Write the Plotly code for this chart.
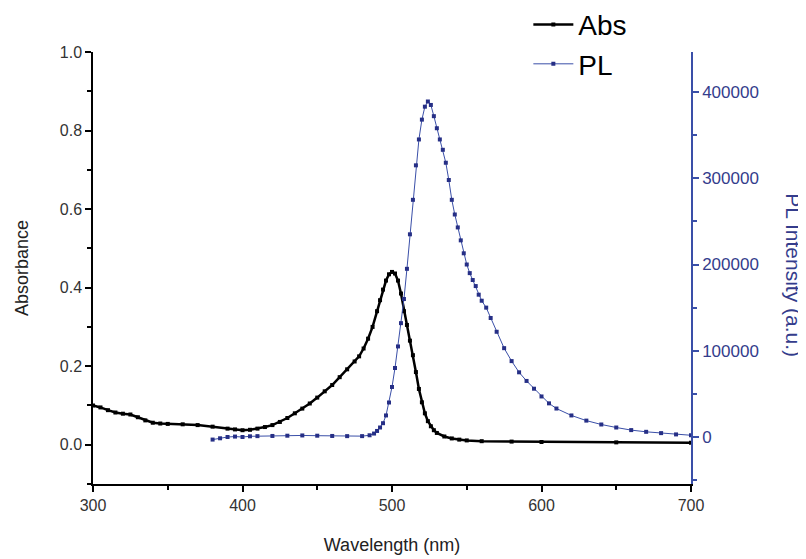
import plotly.graph_objects as go

# Absorbance spectrum
wl_abs = [300, 305, 310, 315, 320, 325, 330, 335, 340, 345, 350, 360, 370, 380, 390, 395,
          400, 405, 410, 415, 420, 425, 430, 435, 440, 445, 450, 455, 460, 465, 470, 475,
          478, 481, 484, 487, 490, 492, 494, 496, 498, 500, 502, 504, 506, 508, 510, 512,
          514, 516, 518, 520, 522, 524, 526, 528, 530, 535, 540, 545, 550, 560, 580, 600,
          650, 700]
abs_vals = [0.100, 0.095, 0.088, 0.082, 0.079, 0.077, 0.070, 0.062, 0.056, 0.054, 0.053, 0.052,
            0.050, 0.046, 0.041, 0.039, 0.037, 0.038, 0.041, 0.045, 0.050, 0.058, 0.068, 0.080,
            0.092, 0.105, 0.120, 0.136, 0.152, 0.172, 0.192, 0.212, 0.225, 0.245, 0.270, 0.300,
            0.340, 0.368, 0.395, 0.418, 0.434, 0.440, 0.436, 0.418, 0.385, 0.340, 0.305, 0.265,
            0.228, 0.185, 0.142, 0.108, 0.080, 0.060, 0.047, 0.037, 0.030, 0.021, 0.016, 0.013,
            0.011, 0.009, 0.008, 0.007, 0.006, 0.005]

# PL spectrum
wl_pl = [380, 385, 390, 395, 400, 405, 410, 420, 430, 440, 450, 460, 470, 480, 485, 488, 490,
         492, 494, 496, 498, 500, 502, 504, 506, 508, 510, 512, 514, 516, 518, 520, 522, 524,
         526, 528, 530, 532, 534, 536, 538, 540, 542, 544, 546, 548, 550, 552, 554, 556, 558,
         560, 563, 566, 570, 575, 580, 585, 590, 595, 600, 605, 610, 620, 630, 640, 650, 660,
         670, 680, 690, 700]
pl_vals = [-3000, -1500, 0, 500, 0, 800, 1000, 1200, 1500, 1800, 1500, 1200, 1000, 1000, 2000,
           4000, 7000, 11000, 16000, 25000, 40000, 58000, 80000, 105000, 132000, 160000, 195000,
           235000, 275000, 315000, 345000, 368000, 383000, 389000, 385000, 372000, 358000,
           345000, 333000, 318000, 298000, 275000, 258000, 243000, 228000, 213000, 200000,
           190000, 182000, 175000, 165000, 158000, 150000, 138000, 122000, 103000, 88000, 75000,
           65000, 56000, 47000, 39000, 33000, 25000, 19000, 14500, 11000, 8000, 6000, 4500,
           3000, 2000]

x_ticks = [300, 400, 500, 600, 700]

BLUE_LINE = "#3A4FA8"
BLUE_MARK = "#262F86"
BLUE_TEXT = "#343C8C"
FONT = "Liberation Sans, Arial, sans-serif"

fig = go.Figure()
fig.add_trace(go.Scatter(
    x=wl_abs, y=abs_vals, name="Abs", mode="lines+markers",
    line=dict(color="black", width=2.5),
    marker=dict(symbol="square", size=4, color="black"),
    legendgroup="a", yaxis="y"))
fig.add_trace(go.Scatter(
    x=wl_pl, y=pl_vals, name="PL", mode="lines+markers",
    line=dict(color=BLUE_LINE, width=1),
    marker=dict(symbol="square", size=4, color=BLUE_MARK),
    legendgroup="b", yaxis="y2"))

# page body has an 8px default margin, so the figure is sized to fit the window
fig.update_layout(
    width=798, height=551,
    margin=dict(l=85, r=115, t=44, b=75, autoexpand=False),
    plot_bgcolor="white", paper_bgcolor="white",
    font=dict(family=FONT, size=16, color="#333333"),
    showlegend=True,
    legend=dict(x=0.728, y=1.121, xanchor="left", yanchor="top",
                font=dict(size=28, color="black"), bgcolor="rgba(0,0,0,0)",
                traceorder="grouped", tracegroupgap=0, itemwidth=40),
    xaxis=dict(range=[300, 700], tickvals=x_ticks, showgrid=False, zeroline=False,
               automargin=False,
               showline=True, linecolor="black", linewidth=1.5,
               ticks="outside", ticklen=6, tickwidth=1.5, tickcolor="black",
               minor=dict(dtick=50, tick0=300, ticks="outside", ticklen=4, tickwidth=1.5,
                          tickcolor="black"),
               title=dict(text="Wavelength (nm)", font=dict(size=18, color="#222222"),
                          standoff=25)),
    yaxis=dict(range=[-0.1, 1.0], tick0=0, dtick=0.2, tickformat=".1f",
               automargin=False, showgrid=False, zeroline=False,
               showline=True, linecolor="black", linewidth=1.5,
               ticks="outside", ticklen=6, tickwidth=1.5, tickcolor="black",
               minor=dict(dtick=0.1, tick0=0, ticks="outside", ticklen=4, tickwidth=1.5,
                          tickcolor="black"),
               title=dict(text="Absorbance", font=dict(size=18, color="#222222"), standoff=26)),
    yaxis2=dict(range=[-54500, 446400], tick0=0, dtick=100000, tickformat="d",
                automargin=False,
                overlaying="y", side="right", showgrid=False, zeroline=False,
                showline=True, linecolor=BLUE_LINE, linewidth=1.5,
                ticks="outside", ticklen=6, tickwidth=1.5, tickcolor=BLUE_LINE,
                tickfont=dict(color=BLUE_TEXT, size=17),
                minor=dict(dtick=50000, tick0=0, ticks="outside", ticklen=4, tickwidth=1.5,
                           tickcolor=BLUE_LINE)),
    annotations=[dict(text="PL Intensity (a.u.)", textangle=90, xref="paper", yref="paper",
                      x=1.170, y=0.484, xanchor="center", yanchor="middle", showarrow=False,
                      font=dict(size=21, color=BLUE_TEXT))],
)

fig.write_html("out.html")
